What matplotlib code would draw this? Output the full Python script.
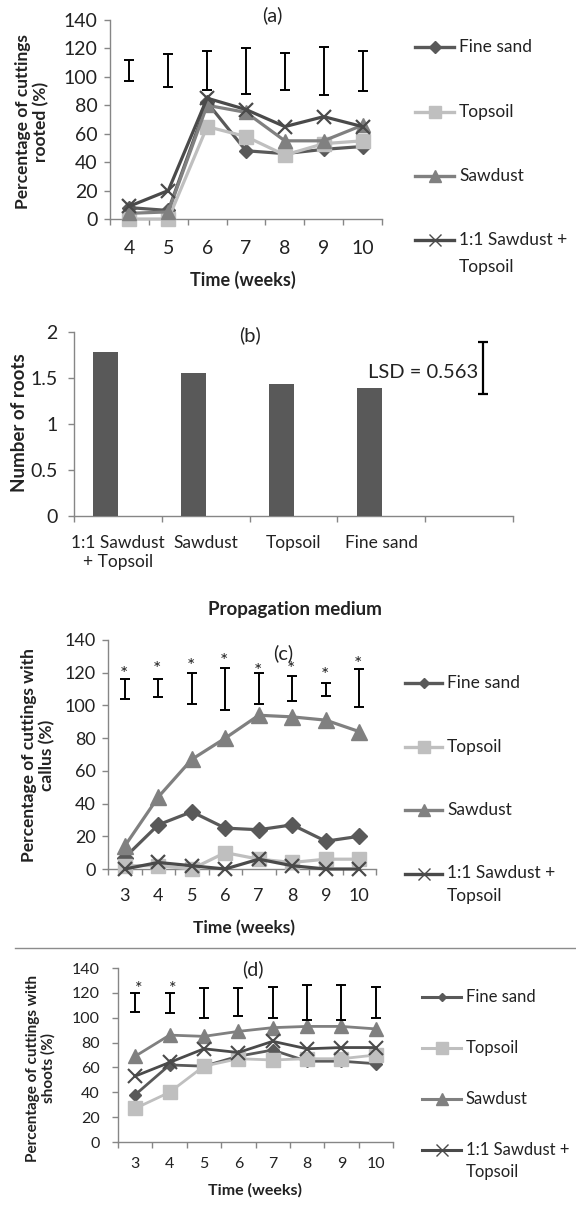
import numpy as np
import matplotlib
matplotlib.use('Agg')
import matplotlib.pyplot as plt
from matplotlib.lines import Line2D

plt.rcParams['font.family'] = ['Lato', 'DejaVu Sans']

# ---------------- data ----------------
series_names = ['Fine sand', 'Topsoil', 'Sawdust', '1:1 Sawdust +\nTopsoil']

weeks_a = ['4', '5', '6', '7', '8', '9', '10']
a_fine = [8, 6, 82, 48, 46, 49, 51]
a_top = [0, 0, 65, 58, 45, 53, 55]
a_saw = [4, 5, 80, 75, 55, 55, 66]
a_mix = [9, 20, 85, 77, 65, 72, 65]
a_err_low = [97, 93, 91, 88, 91, 87, 90]
a_err_high = [112, 116, 118, 120, 117, 121, 118]

media = ['1:1 Sawdust\n+ Topsoil', 'Sawdust', 'Topsoil', 'Fine sand', '']
roots = [1.78, 1.55, 1.43, 1.39]
lsd_low, lsd_high = 1.33, 1.89
lsd_text = 'LSD = 0.563'

weeks_c = ['3', '4', '5', '6', '7', '8', '9', '10']
c_fine = [7, 27, 35, 25, 24, 27, 17, 20]
c_top = [2, 2, 0, 10, 6, 4, 6, 6]
c_saw = [14, 44, 67, 80, 94, 93, 91, 84]
c_mix = [0, 4, 2, 0, 6, 2, 0, 0]
c_err_low = [104, 105, 101, 97, 101, 103, 106, 99]
c_err_high = [116, 116, 120, 123, 120, 118, 114, 122]
c_star_y = [119, 122, 124, 127, 121, 122, 118, 125]

weeks_d = ['3', '4', '5', '6', '7', '8', '9', '10']
d_fine = [38, 62, 61, 69, 74, 65, 65, 63]
d_top = [27, 40, 61, 67, 66, 67, 67, 70]
d_saw = [69, 86, 85, 89, 92, 93, 93, 91]
d_mix = [53, 64, 75, 72, 81, 75, 76, 76]
d_err_low = [105, 104, 100, 101, 100, 98, 98, 100]
d_err_high = [120, 120, 124, 124, 125, 126, 126, 125]
d_star_idx = [0, 1]
d_star_y = [123, 123]

# ---------------- styles ----------------
colors = ['#595959', '#BFBFBF', '#808080', '#4A4A4A']
markers = ['D', 's', '^', 'x']
AX_COL = '#868686'
TXT = '#222222'

W, H = 576, 1216
fig = plt.figure(figsize=(W / 100, H / 100), dpi=100)


def fx(x):
    return x / W


def fy(y):
    return 1 - y / H


def add_ax(l, r, t, b):
    return fig.add_axes([l / W, 1 - b / H, (r - l) / W, (b - t) / H])


def style(ax, labels, ylim, yticks, fs, xpad, ypad, yticklabels=None, xfs=None):
    n = len(labels)
    for s in ['top', 'right']:
        ax.spines[s].set_visible(False)
    for s in ['left', 'bottom']:
        ax.spines[s].set_color(AX_COL)
        ax.spines[s].set_linewidth(1)
    ax.set_xlim(-0.5, n - 0.5)
    ax.set_xticks(np.arange(-0.5, n, 1.0))
    ax.set_xticklabels([])
    ax.set_xticks(np.arange(n), minor=True)
    ax.set_xticklabels(labels, minor=True, color=TXT)
    ax.tick_params(axis='x', which='major', length=4, width=1, color=AX_COL, direction='out')
    ax.tick_params(axis='x', which='minor', length=0, pad=xpad, labelsize=(xfs or fs))
    ax.set_ylim(*ylim)
    ax.set_yticks(yticks)
    if yticklabels is not None:
        ax.set_yticklabels(yticklabels)
    ax.tick_params(axis='y', length=4, width=1, color=AX_COL, direction='out',
                   pad=ypad, labelsize=fs, labelcolor=TXT)
    ax.patch.set_alpha(0)


def plot_lines(ax, data, ms, lw, mew_x):
    x = np.arange(len(data[0]))
    for vals, c, m, s in zip(data, colors, markers, ms):
        ax.plot(x, vals, color=c, lw=lw, marker=m, ms=s, mfc=c, mec=c,
                mew=(mew_x if m == 'x' else 1), clip_on=False, zorder=3)


def errbars(ax, low, high, lw=1.4, cap=3.6):
    low = np.array(low, float)
    high = np.array(high, float)
    x = np.arange(len(low))
    ax.errorbar(x, (low + high) / 2, yerr=(high - low) / 2, fmt='none',
                ecolor='black', elinewidth=lw, capsize=cap, capthick=lw, zorder=4)


def legend(x0, x1, ys, ms, lw, fs, line2_dy, mew_x=1.0):
    for name, y, c, m, s in zip(series_names, ys, colors, markers, ms):
        fig.add_artist(Line2D([fx(x0), fx(x1)], [fy(y), fy(y)], transform=fig.transFigure,
                              color=c, lw=lw))
        fig.add_artist(Line2D([fx((x0 + x1) / 2)], [fy(y)], transform=fig.transFigure,
                              color=c, marker=m, ms=s, mfc=c, mec=c,
                              mew=(mew_x if m == 'x' else 1), ls='none'))
        for i, part in enumerate(name.split('\n')):
            fig.text(fx(x1 + 5), fy(y + i * line2_dy), part, ha='left', va='center',
                     fontsize=fs, color=TXT)


# ---------------- panel (a) ----------------
ax = add_ax(110, 382, 20, 219)
style(ax, weeks_a, (0, 140), np.arange(0, 141, 20), 14, 15, 5)
plot_lines(ax, [a_fine, a_top, a_saw, a_mix], [7, 10, 10.5, 10], 2.3, 1.6)
errbars(ax, a_err_low, a_err_high)
fig.text(fx(272), fy(15), '(a)', ha='center', va='center', fontsize=14.5, color=TXT)
fig.text(fx(32), fy(122), 'Percentage of cuttings\nrooted (%)', rotation=90, ha='center',
         va='center', fontsize=12.5, fontweight='bold', linespacing=1.1, color=TXT)
fig.text(fx(243), fy(280), 'Time (weeks)', ha='center', va='center', fontsize=13,
         fontweight='bold', color=TXT)
legend(415, 454, [47, 112, 176, 240], [6, 8.5, 8.5, 9], 2.4, 12.5, 27)

# ---------------- panel (b) ----------------
ax = add_ax(74, 513, 332, 516)
style(ax, media, (0, 2), [0, 0.5, 1, 1.5, 2], 14, 14, 8,
      yticklabels=['0', '0.5', '1', '1.5', '2'], xfs=12.5)
ax.bar(np.arange(len(roots)) - 0.137, roots, width=0.285, color='#595959', zorder=3)
ax.errorbar([4.16], [(lsd_low + lsd_high) / 2], yerr=[(lsd_high - lsd_low) / 2], fmt='none',
            ecolor='black', elinewidth=1.6, capsize=3.4, capthick=1.6)
ax.text(4.10, 1.565, lsd_text, ha='right', va='center', fontsize=14.5, color=TXT)
fig.text(fx(250), fy(335), '(b)', ha='center', va='center', fontsize=14.5, color=TXT)
fig.text(fx(20), fy(423), 'Number of roots', rotation=90, ha='center', va='center',
         fontsize=13.5, fontweight='bold', color=TXT)
fig.text(fx(295), fy(610), 'Propagation medium', ha='center', va='center', fontsize=13.5,
         fontweight='bold', color=TXT)

# ---------------- panel (c) ----------------
ax = add_ax(108, 376, 640, 869)
style(ax, weeks_c, (0, 140), np.arange(0, 141, 20), 13, 14, 5)
plot_lines(ax, [c_fine, c_top, c_saw, c_mix], [8.5, 10, 11, 10], 2.3, 1.6)
errbars(ax, c_err_low, c_err_high)
for i, y in enumerate(c_star_y):
    ax.text(i - 0.03, y, '*', ha='center', va='center', fontsize=14, color=TXT)
fig.text(fx(283), fy(653), '(c)', ha='center', va='center', fontsize=14.5, color=TXT)
fig.text(fx(38), fy(755), 'Percentage of cuttings with\ncallus (%)', rotation=90,
         ha='center', va='center', fontsize=12.5, fontweight='bold', linespacing=1.1,
         color=TXT)
fig.text(fx(244), fy(928), 'Time (weeks)', ha='center', va='center', fontsize=12.5,
         fontweight='bold', color=TXT)
legend(405, 442, [683, 747, 810, 873.5], [5, 8.5, 8.5, 9], 2.4, 12.5, 22)

# separator
fig.add_artist(Line2D([fx(15), 1.0], [fy(948), fy(948)], transform=fig.transFigure,
                      color='#8C8C8C', lw=1))

# ---------------- panel (d) ----------------
ax = add_ax(118, 393, 968, 1142)
style(ax, weeks_d, (0, 140), np.arange(0, 141, 20), 11.5, 11, 9)
plot_lines(ax, [d_fine, d_top, d_saw, d_mix], [6.5, 9.5, 10, 9.5], 2.0, 1.5)
errbars(ax, d_err_low, d_err_high, lw=1.4, cap=3.4)
for i, y in zip(d_star_idx, d_star_y):
    ax.text(i + 0.09, y, '*', ha='center', va='center', fontsize=13, color=TXT)
fig.text(fx(253), fy(969), '(d)', ha='center', va='center', fontsize=14, color=TXT)
fig.text(fx(41), fy(1068), 'Percentage of cuttings with\nshoots (%)', rotation=90,
         ha='center', va='center', fontsize=11, fontweight='bold', linespacing=1.1,
         color=TXT)
fig.text(fx(255), fy(1190), 'Time (weeks)', ha='center', va='center', fontsize=11.5,
         fontweight='bold', color=TXT)
legend(422, 461, [997, 1048, 1099, 1150], [4.5, 8.5, 8.5, 8.5], 2.2, 12, 22)

fig.savefig('out.png', dpi=100, facecolor='white')
